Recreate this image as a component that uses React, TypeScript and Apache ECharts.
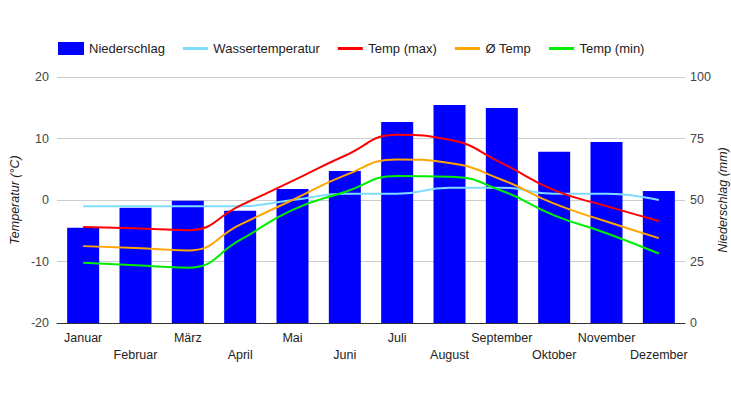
import React, { useEffect, useRef } from "react";
import * as echarts from "echarts";

const months = ["Januar", "Februar", "März", "April", "Mai", "Juni", "Juli", "August", "September", "Oktober", "November", "Dezember"];
const precipitation = [38.7, 46.9, 49.7, 45.6, 54.5, 61.8, 81.7, 88.6, 87.4, 69.6, 73.6, 53.7];
const waterTemp = [-1, -1, -1, -1, 0, 1, 1, 2, 2, 1, 1, 0];
const tempMax = [-4.4, -4.6, -4.9, -0.9, 3.1, 7.2, 10.6, 9.8, 6.0, 1.6, -1.0, -3.4];
const tempAvg = [-7.5, -7.8, -8.2, -4.0, 0.0, 4.0, 6.6, 6.0, 3.3, -0.6, -3.5, -6.2];
const tempMin = [-10.2, -10.6, -11.0, -6.5, -1.6, 1.3, 3.9, 3.8, 1.5, -2.5, -5.4, -8.7];
const tempTicks = { min: -20, max: 20, interval: 10 };
const precTicks = { min: 0, max: 100, interval: 25 };

const FONT = "'Liberation Sans', Arial, sans-serif";
const LINE_ICON = "path://M0,0 L0,0 M0,5 L25,5 L25,8 L0,8 Z M25,13 L25,13";

export default function App() {
  const ref = useRef<HTMLDivElement>(null);
  useEffect(() => {
    if (!ref.current) return;
    const chart = echarts.init(ref.current, null, { renderer: "svg" });
    const lineSeries = (name: string, data: number[], color: string) => ({
      name,
      type: "line",
      yAxisIndex: 0,
      data,
      smooth: 0.5,
      symbol: "none",
      lineStyle: { color, width: 2 },
      itemStyle: { color },
      z: 3,
    });
    chart.setOption({
      animation: false,
      textStyle: { fontFamily: FONT },
      legend: {
        left: 58,
        top: 42,
        padding: 0,
        itemWidth: 26,
        itemHeight: 13,
        itemGap: 18,
        textStyle: { fontFamily: FONT, fontSize: 13, color: "#222" },
        data: [
          { name: "Niederschlag", icon: "rect" },
          { name: "Wassertemperatur", icon: LINE_ICON },
          { name: "Temp (max)", icon: LINE_ICON },
          { name: "Ø Temp", icon: LINE_ICON },
          { name: "Temp (min)", icon: LINE_ICON },
        ],
      },
      grid: { left: 57, right: 46, top: 77, bottom: 77, containLabel: false, outerBoundsMode: "none" },
      xAxis: {
        type: "category",
        data: months,
        axisLine: { onZero: false, lineStyle: { color: "#333", width: 1 } },
        axisTick: { show: false },
        axisLabel: {
          interval: 0,
          color: "#222",
          fontSize: 12.5,
          fontFamily: FONT,
          lineHeight: 17,
          margin: 6,
          formatter: (v: string, i: number) => (i % 2 === 1 ? "\n" + v : v),
        },
      },
      yAxis: [
        {
          type: "value",
          ...tempTicks,
          name: "Temperatur (°C)",
          nameLocation: "middle",
          nameGap: 36,
          nameRotate: 90,
          nameMoveOverlap: false,
          nameTextStyle: { fontFamily: FONT, fontSize: 12.5, fontStyle: "italic", color: "#222" },
          axisLine: { show: false },
          axisTick: { show: false },
          axisLabel: { color: "#444", fontSize: 12.5, fontFamily: FONT, margin: 8 },
          splitLine: { lineStyle: { color: "#ccc" } },
        },
        {
          type: "value",
          ...precTicks,
          name: "Niederschlag (mm)",
          nameLocation: "middle",
          nameGap: 31,
          nameRotate: 90,
          nameMoveOverlap: false,
          nameTextStyle: { fontFamily: FONT, fontSize: 12.5, fontStyle: "italic", color: "#222" },
          axisLine: { show: false },
          axisTick: { show: false },
          axisLabel: { color: "#444", fontSize: 12.5, fontFamily: FONT, margin: 5 },
          splitLine: { show: false },
        },
      ],
      series: [
        {
          name: "Niederschlag",
          type: "bar",
          yAxisIndex: 1,
          data: precipitation,
          barWidth: 32,
          itemStyle: { color: "#0000ff" },
          z: 2,
        },
        lineSeries("Wassertemperatur", waterTemp, "#80dcff"),
        lineSeries("Temp (max)", tempMax, "#ff0000"),
        lineSeries("Ø Temp", tempAvg, "#ffa500"),
        lineSeries("Temp (min)", tempMin, "#00ee00"),
      ],
    });
    return () => chart.dispose();
  }, []);
  return <div ref={ref} style={{ width: 731, height: 400, position: "absolute", left: 0, top: 0 }} />;
}
